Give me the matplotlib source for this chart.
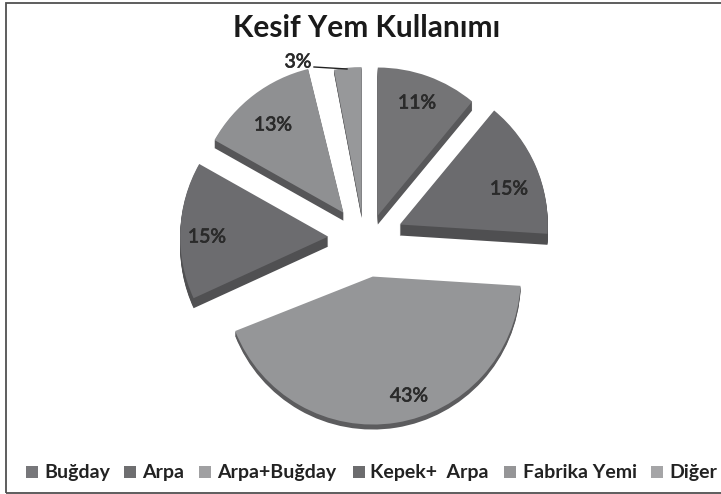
import numpy as np
import matplotlib
matplotlib.use('Agg')
import matplotlib.pyplot as plt
import matplotlib.patheffects as pe

# veriler
labels = ['Buğday', 'Arpa', 'Arpa+Buğday', 'Kepek+  Arpa', 'Fabrika Yemi', 'Diğer']
values = [11, 15, 43, 15, 13, 3]

# stil
colors_top = ['#747476', '#6b6b6e', '#959698', '#6c6c6f', '#8f9092', '#97989a']
colors_side = ['#58585a', '#4f4f51', '#5c5c5e', '#505052', '#565658', '#5a5a5c']
colors_leg = ['#77777a', '#6e6e70', '#a0a0a2', '#6c6c6e', '#959597', '#a5a5a7']
explode = [26, 39, 37, 36, 33, 25]
depth = [9, 11, 5, 10, 8, 3]
tilt = [0, 0, 0, -3, -3, 0]  # perspektif icin kucuk donme (saat yonu theta)
shift_x = [5, 0, 3, 0, -2, 0]
pct_pos = [(417, 103), (509, 189), (409, 396), (207, 237), (273, 125), (298, 62)]
leg_sq = [26, 124, 199, 353, 504, 651]
leg_txt = [44, 142, 217, 370, 523, 669]

plt.rcParams['font.family'] = ['Lato', 'DejaVu Sans']

W, H = 721, 494
R = 148
CX, CY = 364, 240

fig = plt.figure(figsize=(W / 100, H / 100), dpi=100)
ax = fig.add_axes([0, 0, 1, 1])

# once yan yuzeyler, sonra ust yuzey
for d in range(max(depth), -1, -1):
    cols = colors_top if d == 0 else colors_side
    wedges, _ = ax.pie(values, colors=cols, explode=explode, startangle=90, counterclock=False,
                       center=(CX, H - CY - d), radius=R, wedgeprops={'lw': 0}, frame=True)
    for w, dp, t, sx in zip(wedges, depth, tilt, shift_x):
        w.set_theta1(w.theta1 - t)
        w.set_theta2(w.theta2 - t)
        w.set_center((w.center[0] + sx, w.center[1]))
        if d > dp:
            w.set_visible(False)
ax.set_aspect('auto')
ax.set_xlim(0, W)
ax.set_ylim(0, H)
ax.axis('off')

ax.add_patch(plt.Rectangle((6, H - 493), 730, 490, fc='none', ec='#505050', lw=1.3, zorder=0))

ax.text(367, H - 28, 'Kesif Yem Kullanımı', fontsize=21.5, fontweight='bold', ha='center', va='center', color='#1a1a1a')

for v, (x, y) in zip(values, pct_pos):
    ax.text(x, H - y, '%d%%' % v, fontsize=14, ha='center', va='center', color='#2a2a2a',
            path_effects=[pe.withStroke(linewidth=0.5, foreground='#2a2a2a')])
ax.plot([314, 347], [H - 67, H - 69], color='#222222', lw=1)

for lab, c, x, tx in zip(labels, colors_leg, leg_sq, leg_txt):
    ax.add_patch(plt.Rectangle((x, H - 478), 12, 12, fc=c, ec='none'))
    ax.text(tx, H - 472, lab, fontsize=14, fontweight='bold', ha='left', va='center', color='#222222')

fig.savefig('out.png', dpi=100)
